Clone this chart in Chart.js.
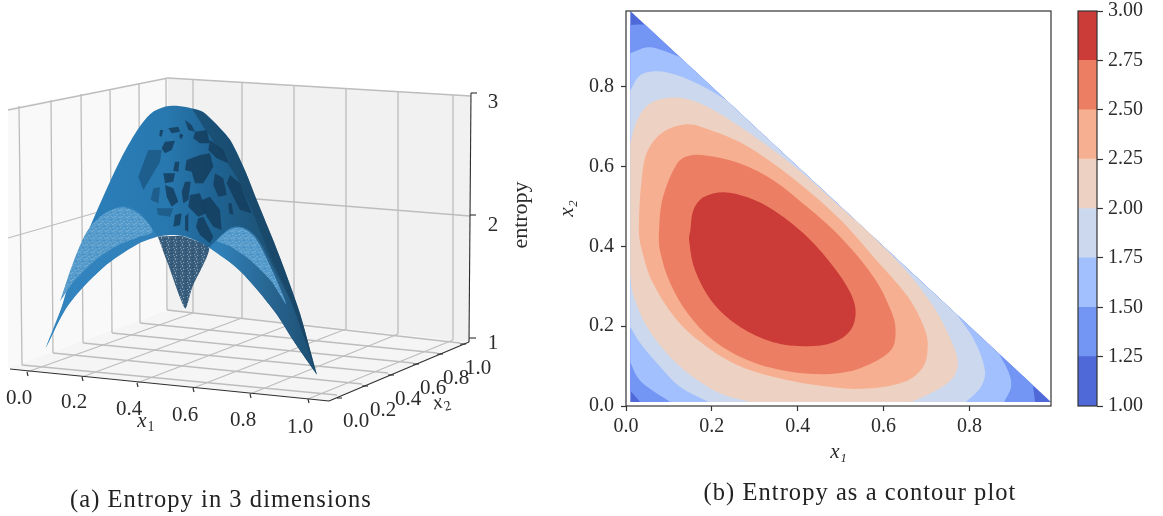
<!DOCTYPE html>
<html><head><meta charset="utf-8">
<style>
html,body{margin:0;padding:0;background:#fff;width:1163px;height:516px;overflow:hidden}
canvas{position:absolute;display:block}
.cap{position:absolute;font-family:"Liberation Serif",serif;font-size:24.5px;color:#222;white-space:nowrap;transform:translateX(-50%);letter-spacing:1.05px;line-height:26px}
</style>
<script src="https://cdn.jsdelivr.net/npm/chart.js@4/dist/chart.umd.min.js"></script>
</head><body>
<canvas id="c3d" width="540" height="516" style="left:0;top:0"></canvas>
<canvas id="cont" width="515" height="480" style="left:555px;top:0"></canvas>
<canvas id="cbar" width="93" height="420" style="left:1070px;top:0"></canvas>
<div class="cap" style="left:221px;top:486px">(a) Entropy in 3 dimensions</div>
<div class="cap" style="left:860px;top:479px">(b) Entropy as a contour plot</div>
<script>
// ---------- contour plot: level boundaries (x1, x2) ----------
// a repeated vertex marks a sharp corner where the contour meets the edge of the domain
const levels = [1, 1.25, 1.5, 1.75, 2, 2.25, 2.5, 2.75, 3];
const levelColors = ['#4f69d9','#7396f5','#a3c0fe','#cbd8ee','#edd1c2','#f7af91','#ec7f63','#cb3b37'];
const level100 = [[.01,.01],[.99,.01],[.01,.99]];
const level125 = [[.01,.038],[.01,.038],[.033,.01],[.033,.01],[.953,.01],[.953,.01],[.948,.052],[.948,.052],[.044,.956],[.044,.956],[.026,.956],[.01,.954],[.01,.954]];
const level150 = [[.01,.11],[.01,.11],[.026,.073],[.049,.048],[.103,.01],[.103,.01],[.881,.01],[.881,.01],[.897,.048],[.892,.083],[.869,.131],[.869,.131],[.126,.874],[.126,.874],[.086,.891],[.051,.899],[.01,.884],[.01,.884]];
const level175 = [[.01,.198],[.01,.198],[.033,.158],[.072,.108],[.126,.048],[.192,.01],[.192,.01],[.792,.01],[.792,.01],[.827,.048],[.836,.09],[.811,.165],[.769,.231],[.769,.231],[.231,.769],[.231,.769],[.166,.808],[.119,.829],[.072,.839],[.033,.829],[.01,.791],[.01,.791]];
const level200 = [[.01,.333],[.01,.333],[.016,.283],[.049,.198],[.103,.123],[.166,.065],[.227,.028],[.29,.01],[.29,.01],[.664,.01],[.664,.01],[.703,.028],[.757,.065],[.773,.108],[.757,.165],[.717,.248],[.657,.333],[.577,.423],[.5,.498],[.423,.573],[.343,.641],[.243,.716],[.166,.761],[.11,.773],[.056,.758],[.026,.716],[.01,.658],[.01,.658]];
const level225 = [[.03,.441],[.037,.573],[.051,.641],[.086,.686],[.143,.706],[.2,.69],[.266,.661],[.343,.608],[.423,.541],[.5,.466],[.577,.373],[.657,.273],[.694,.198],[.703,.153],[.692,.098],[.647,.06],[.547,.043],[.437,.053],[.343,.073],[.259,.103],[.189,.148],[.119,.215],[.063,.308],[.037,.39],[.03,.441]];
const level250 = [[.077,.441],[.086,.523],[.119,.608],[.143,.626],[.185,.628],[.266,.608],[.343,.566],[.423,.498],[.5,.423],[.577,.323],[.617,.24],[.628,.19],[.617,.14],[.547,.095],[.5,.083],[.437,.08],[.36,.09],[.283,.115],[.203,.165],[.143,.233],[.103,.308],[.079,.39],[.077,.441]];
const level275 = [[.15,.441],[.157,.491],[.18,.523],[.227,.536],[.283,.523],[.343,.491],[.423,.423],[.484,.348],[.523,.283],[.535,.235],[.523,.19],[.484,.16],[.423,.15],[.343,.16],[.266,.198],[.203,.258],[.161,.34],[.147,.416],[.15,.441]];
const xTickStep = 0.2, axisMax = 0.99;

const paneLeft = [[8,108],[168,78],[168,310],[8,368]];
const paneBack = [[168,78],[471,96],[469,342],[168,310]];
const paneFloor = [[8,368],[168,310],[469,342],[329,401]];
const gridSegments = [
 [193,79.5,193,313],[242,82,242,318],[294,85.5,294,323],[346,89,346,329],[398,92,398,334],[453,95,453,340],
 [19,106,22,365],[51,100,53,353],[81,94,83,343],[110,89,112,333],[139,83,140,323],[166,78,167,310],
 [27,372,193,313],[82,377,242,318],[137,383,294,323],[193,388,346,329],[250,394,398,334],[308,399,453,340],
 [22,365,337,395],[53,353,362,384],[83,343,388,373],[112,333,413,363],[140,323,437,353],[167,310,460,343],
 [8,110,168,78],[168,78,471,96],[8,238,168,192],[168,192,470,216]
];
const axisSegments = [[10,369,329,401],[329,401,469,342],[469,342,471,93],
 [27,372,28,376],[82,377,83,381],[137,383,138,387],[193,388,194,392],[250,394,251,398],[308,399,309,403],
 [337,398,342,398],[362,386,368,386],[388,375,394,375],[413,364,419,364],[437,354,443,354],[460,344,466,344],
 [469,338,476,338],[470,215,476,215],[471,93,477,93]];
const surfaceOutline = [[133,830],[170,740],[200,640],[250,500],[300,380],[350,270],[400,180],[440,130],[480,110],[515,107],[560,115],[592,125],[630,161],[671,209],[714,299],[752,397],[796,507],[831,600],[875,728],[924,910],[924,910],[860,815],[800,720],[700,600],[610,530],[530,495],[460,497],[400,520],[300,590],[200,700],[133,830]];
const surfaceUnder = [[460,497],[490,580],[540,712],[560,650],[610,530],[530,495]];
const surfaceBandLeft = [[133,830],[195,666],[242,507],[292,439],[356,406],[408,427],[460,497],[460,497],[400,520],[300,590],[200,700],[133,830]];
const surfaceBandRight = [[610,530],[670,472],[708,469],[749,499],[796,588],[854,707],[924,910],[924,910],[860,815],[800,720],[700,600],[610,530]];
const surfaceCoreLeft = [[175,690],[215,570],[255,480],[300,432],[356,410],[405,430],[445,482],[400,500],[340,525],[275,570],[215,630]];
const surfaceCoreRight = [[630,510],[670,476],[708,472],[745,502],[790,590],[835,700],[790,630],[720,560],[670,525]];
const surfaceFlank = [[560,115],[592,125],[630,161],[671,209],[714,299],[752,397],[796,507],[831,600],[875,728],[924,910],[850,690],[790,560],[735,420],[690,320],[640,240],[590,165]];
const surfacePatches = [
 [[145,85],[175,80],[180,95],[155,100]],[[120,90],[130,90],[125,110],[118,108]],[[195,60],[215,75],[225,95],[205,90]],
 [[180,100],[190,105],[185,118],[178,112]],[[225,95],[260,90],[270,130],[240,130],[220,115]],
 [[135,125],[165,122],[155,150],[135,160],[125,145]],[[165,185],[178,185],[175,215],[160,212]],
 [[130,220],[165,220],[160,245],[135,250]],[[200,180],[240,165],[270,160],[280,200],[250,250],[225,250],[215,215],[195,210]],
 [[270,120],[310,150],[325,190],[290,175],[265,150]],[[285,220],[310,235],[320,285],[295,290],[280,255]],
 [[195,245],[212,245],[205,300],[190,310],[185,275]],[[135,255],[160,265],[175,305],[155,320],[140,290]],
 [[210,285],[240,280],[260,340],[235,350],[205,320]],[[165,345],[185,340],[180,375],[160,380]],
 [[245,300],[270,290],[300,330],[305,390],[280,380],[260,350]],[[235,355],[250,350],[280,410],[270,430],[240,405],[228,380]],
 [[195,350],[205,340],[205,395],[195,390]],[[330,225],[360,250],[375,290],[395,340],[360,330],[340,290],[320,250]],
 [[325,310],[335,310],[340,345],[328,340]]
];
const surfaceFaintPatches = [
 [[85,150],[125,150],[120,185],[100,220],[70,270],[55,230],[70,190]],
 [[100,265],[120,262],[115,310],[92,300]],[[110,325],[160,325],[150,350],[115,345]]
];
const labels3d = [
 ['0.0',19,398],['0.2',74,402],['0.4',129,409],['0.6',185,415],['0.8',243,420],['1.0',300,427],
 ['0.0',356,421],['0.2',383,410],['0.4',408,399],['0.6',433,388],['0.8',456,378],['1.0',478,368],
 ['1',493,343],['2',493,225],['3',493,102]
];

// ---------- helpers ----------
const helper = document.createElement('canvas').getContext('2d');
function tile(base, dots){
  const t = document.createElement('canvas'); t.width = 7; t.height = 7;
  const g = t.getContext('2d'); g.fillStyle = base; g.fillRect(0,0,7,7);
  dots.forEach(d => { g.fillStyle = d[2]; g.fillRect(d[0],d[1],d[3]||1,1); });
  return helper.createPattern(t,'repeat');
}
function ramp(stops){
  const g = helper.createLinearGradient(45,0,315,0);
  stops.forEach(s=>g.addColorStop(s[0],s[1]));
  return g;
}
const domeFill = ramp([[0,'#2c82bf'],[.45,'#2878af'],[.62,'#1f6494'],[.8,'#1d5479'],[1,'#1e4d70']]);
const bandFill = ramp([[0,'#3284bf'],[.65,'#3080b8'],[.85,'#27638e'],[1,'#1d4f72']]);
const lightFill = tile('#549aca',[[0,0,'#74acd3',2],[3,1,'#6aa6d0'],[5,2,'#478fc3',2],[1,3,'#78afd5'],[4,4,'#6ea9d2',2],[0,5,'#4a92c5'],[2,6,'#72abd3',2],[6,6,'#6aa6d0']]);
const underFill = tile('#3a5f7f',[[0,0,'#7b95aa'],[3,1,'#2a4f6d',2],[5,2,'#849cb0'],[1,3,'#8aa1b3'],[4,4,'#2a4f6d'],[6,4,'#7b95aa'],[2,5,'#2e5472',2],[0,6,'#849cb0']]);

let n = 0;
function poly(pts, color, tension, xa, ya){
  n++;
  return {type:'scatter', showLine:true, fill:'shape', order:100000-n,
    data: pts.map(p=>({x:p[0],y:p[1]})), backgroundColor:color, borderColor:'transparent',
    borderWidth:0, pointRadius:0, tension:tension||0, xAxisID:xa||'x', yAxisID:ya||'y'};
}
function seg(s, color, w){
  n++;
  return {type:'scatter', showLine:true, fill:false, order:100000-n,
    data:[{x:s[0],y:s[1]},{x:s[2],y:s[3]}], borderColor:color, borderWidth:w, pointRadius:0, xAxisID:'x', yAxisID:'y'};
}
// closed curves overlap their own ends so the spline has no kink at the seam
const loop = pts => [pts[pts.length-2], ...pts, pts[1]];
const serif = '"Liberation Serif", serif';
const ink = '#2b2b2b';

// ---------- chart (a): 3D surface ----------
const text3d = {
  id:'text3d',
  afterDraw(chart){
    const c = chart.ctx; c.save(); c.fillStyle = ink; c.textAlign='center'; c.textBaseline='middle';
    c.font = '21px '+serif;
    labels3d.forEach(l=>c.fillText(l[0],l[1],l[2]));
    c.save(); c.translate(521,215); c.rotate(-Math.PI/2); c.font='22px '+serif; c.fillText('entropy',0,0); c.restore();
    c.font='italic 21px '+serif; c.fillText('x',142,421);
    c.font='14px '+serif; c.fillText('1',151,427);
    c.save(); c.translate(442,404); c.rotate(-.25);
    c.font='italic 21px '+serif; c.fillText('x',-4,-2);
    c.font='14px '+serif; c.fillText('2',5,4); c.restore();
    c.restore();
  }
};
const ds3d = [
  poly(paneLeft,'#f9f9f9'), poly(paneBack,'#f1f1f1'), poly(paneFloor,'#f5f5f5'),
  ...gridSegments.map(s=>seg(s,'#bdbdbd',1.3)),
  ...axisSegments.map(s=>seg(s,'#2e2e2e',1.1)),
  poly(surfaceUnder,underFill,0.2,'sx','sy'),
  poly(surfaceOutline,domeFill,0.3,'sx','sy'),
  poly(surfaceBandLeft,bandFill,0.3,'sx','sy'),
  poly(surfaceBandRight,bandFill,0.3,'sx','sy'),
  poly(surfaceCoreLeft,lightFill,0.3,'sx','sy'),
  poly(surfaceCoreRight,lightFill,0.3,'sx','sy'),
  poly(surfaceFlank,'rgba(24,66,98,.6)',0,'sx','sy'),
  ...surfacePatches.map(p=>poly(p,'rgba(20,60,92,.82)',0,'cx','cy')),
  ...surfaceFaintPatches.map(p=>poly(p,'rgba(28,88,132,.8)',0,'cx','cy'))
];
new Chart(document.getElementById('c3d'),{
  type:'scatter', data:{datasets:ds3d}, plugins:[text3d],
  options:{responsive:false,animation:false,layout:{padding:0},
    plugins:{legend:{display:false},tooltip:{enabled:false},title:{display:false}},
    scales:{
      x:{type:'linear',display:false,min:0,max:540},
      y:{type:'linear',display:false,min:0,max:516,reverse:true},
      sx:{type:'linear',display:false,min:0,max:1574.3},
      sy:{type:'linear',display:false,min:-209,max:1331.3,reverse:true},
      cx:{type:'linear',display:false,min:-360,max:1260},
      cy:{type:'linear',display:false,min:-300,max:1248,reverse:true}
    }}
});

// ---------- chart (b): contour ----------
const frame = {id:'frame',afterDraw(chart){
  const a = chart.chartArea, c = chart.ctx; c.save(); c.strokeStyle='#333'; c.lineWidth=1.2;
  c.strokeRect(a.left,a.top,a.right-a.left,a.bottom-a.top); c.restore();
}};
function noPad(s){ s.paddingTop=0; s.paddingBottom=0; s.paddingLeft=0; s.paddingRight=0; }
const axisCommon = (title,pad,tickPad)=>({
  type:'linear',min:0,max:axisMax,
  grid:{drawOnChartArea:false,tickLength:5,tickColor:'#333',tickWidth:1.2},
  border:{display:false},
  ticks:{stepSize:xTickStep,includeBounds:false,autoSkip:false,maxRotation:0,minRotation:0,padding:tickPad,color:ink,
    font:{family:'"Liberation Serif", serif',size:20},callback:v=>v.toFixed(1)},
  title:{display:true,text:title,color:ink,font:{family:'"Liberation Serif", serif',size:21,style:'italic'},padding:pad}
});
new Chart(document.getElementById('cont'),{
  type:'scatter',
  data:{datasets:[
      poly(level100,levelColors[0],0),
      poly(level125,levelColors[1],0.35),
      poly(level150,levelColors[2],0.35),
      poly(level175,levelColors[3],0.35),
      poly(level200,levelColors[4],0.35),
      poly(loop(level225),levelColors[5],0.35),
      poly(loop(level250),levelColors[6],0.35),
      poly(loop(level275),levelColors[7],0.35)
  ]},
  plugins:[frame],
  options:{responsive:false,animation:false,
    layout:{padding:{left:0,top:11,right:19,bottom:0}},
    plugins:{legend:{display:false},tooltip:{enabled:false}},
    scales:{
      x:Object.assign(axisCommon('x₁',{top:0,bottom:15},4),{afterFit(s){s.height=74;noPad(s);}}),
      y:Object.assign(axisCommon('x₂',{top:0,bottom:20},7),{afterFit(s){s.width=71;noPad(s);}})
    }}
});

// ---------- colourbar ----------
new Chart(document.getElementById('cbar'),{
  type:'bar',
  data:{labels:[''],datasets:levelColors.map((c,i)=>({data:[[levels[i],levels[i+1]]],backgroundColor:c,borderWidth:0,
    barPercentage:1,categoryPercentage:1,grouped:false}))},
  plugins:[frame],
  options:{responsive:false,animation:false,
    layout:{padding:{left:8,top:11,right:0,bottom:14}},
    plugins:{legend:{display:false},tooltip:{enabled:false}},
    scales:{
      x:{display:false},
      y:{position:'right',min:1,max:3,
        grid:{drawOnChartArea:false,tickLength:6,tickColor:'#333',tickWidth:1.2},border:{display:false},
        ticks:{stepSize:.25,padding:5,color:ink,autoSkip:false,font:{family:'"Liberation Serif", serif',size:20},callback:v=>v.toFixed(2)},
        afterFit(s){s.width=66;noPad(s);}}
    }}
});
</script>
</body></html>
